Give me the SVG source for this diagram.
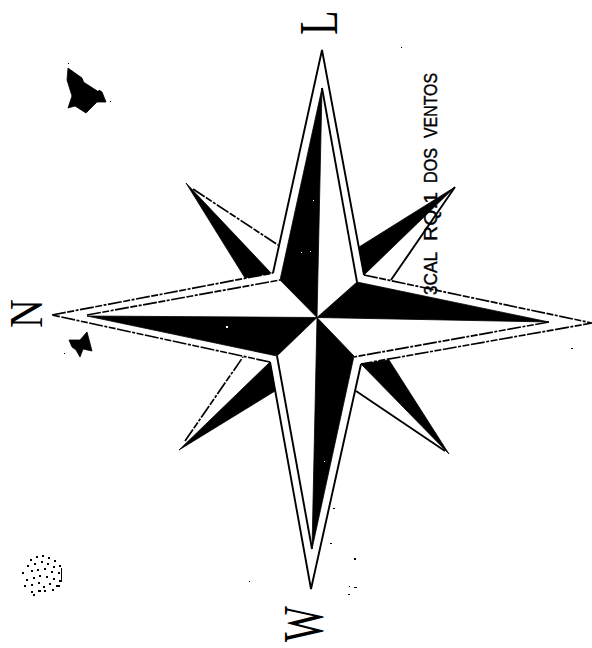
<svg xmlns="http://www.w3.org/2000/svg" width="592" height="648" viewBox="0 0 592 648">
<style>
.k{fill:#000;stroke:#000;stroke-width:.8;stroke-linejoin:round}
.s{fill:none;stroke:#000;stroke-width:1.9}
.d{fill:none;stroke:#000;stroke-width:1.7;stroke-dasharray:14 1.5 7 1.5 3 1.5}
.l{font-family:"Liberation Serif",serif;font-size:40px;fill:#000}
.t{font-family:"Liberation Sans",sans-serif;font-size:16px;fill:#000;stroke:#000;stroke-width:.35}
.p{fill:#000}
.w{fill:#fff}
</style>
<rect width="592" height="648" fill="#fff"/>
<g id="minor-points">
<path class="k" d="M186 183L271 273L245 278Z"/>
<path class="d" d="M193 189L278 245"/>
<path class="k" d="M455 187L364 275L359 247Z"/>
<path class="s" d="M455 187L391 280"/>
<path class="k" d="M179 450L270 362L275 391Z"/>
<path class="d" d="M185 441L243 357"/>
<path class="k" d="M449 454L361 364L389 360Z"/>
<path class="s" d="M445 451L356 391"/>
</g>
<g id="outer-star">
<path class="d" d="M52 315L273 273"/>
<path class="s" d="M273 273L322 50L364 275"/>
<path class="d" d="M364 275L592 323L361 364"/>
<path class="s" d="M361 364L311 589L270 362"/>
<path class="d" d="M270 362L52 315"/>
</g>
<g id="main-points">
<path class="k" d="M87 316L317 317.500L277 356Z"/>
<path class="k" d="M322 88L280 280L317 317.500Z"/>
<path class="k" d="M549 322L357 282L317 317.500Z"/>
<path class="k" d="M312 549L354 356L317 317.500Z"/>
<path class="d" d="M87 315L280 280"/>
<path class="s" d="M322 88L357 282"/>
<path class="d" d="M549 322L354 357"/>
<path class="s" d="M312 549L277 356"/>
</g>
<g id="label-north"><text class="l" transform="translate(42 328) rotate(-90) scale(1 1.17)">N</text></g>
<g id="label-east"><text class="l" transform="translate(337 35) rotate(-90) scale(1 1.37)">L</text></g>
<g id="label-west"><text class="l" transform="translate(323 642) rotate(-90) scale(.95 1.4)">W</text></g>
<g id="caption">
<text class="t" transform="translate(437 295) rotate(-90) scale(1 1.2)" textLength="43" lengthAdjust="spacingAndGlyphs">3CAL</text>
<text class="t" transform="translate(437 241) rotate(-90) scale(1 1.2)" textLength="49" lengthAdjust="spacingAndGlyphs">RQ:1</text>
<text class="t" transform="translate(437 183) rotate(-90) scale(1 1.2)" textLength="35" lengthAdjust="spacingAndGlyphs">DOS</text>
<text class="t" transform="translate(437 138) rotate(-90) scale(1 1.2)" textLength="65" lengthAdjust="spacingAndGlyphs">VENTOS</text>
</g>
<g id="blobs">
<path class="k" d="M68 68L82 78L102 92L106 102L97 102L86 113L75 106L68 108L72 96L67 80Z"/>
<path class="w" d="M82 77L100 89L98 91L84 82Z"/>
<path class="k" d="M69 340L80 340L87 332L92 351L83 349L80 357L76 350L72 347Z"/>
</g>
<g id="stipple">
<path class="p" d="M30 559h2v2h-2zM36 556h2v2h-2zM42 555h2v2h-2zM48 557h2v2h-2zM54 560h2v2h-2zM27 565h2v2h-2zM34 563h2v2h-2zM41 561h2v2h-2zM47 563h2v2h-2zM53 566h2v2h-2zM59 565h2v2h-2zM22 572h2v2h-2zM31 570h2v2h-2zM37 569h2v2h-2zM44 568h2v2h-2zM51 571h2v2h-2zM58 572h2v2h-2zM61 568h1v12h-1zM26 579h2v2h-2zM33 577h2v2h-2zM39 575h2v2h-2zM46 576h2v2h-2zM53 578h2v2h-2zM59 580h3v2h-3zM24 585h2v2h-2zM31 584h2v2h-2zM38 582h2v2h-2zM43 586h2v2h-2zM49 583h2v2h-2zM56 585h4v2h-4zM31 591h2v2h-2zM38 590h3v2h-3zM44 590h2v2h-2zM52 589h2v2h-2zM33 594h2v2h-2z"/>
</g>
<g id="specks">
<path class="p" d="M68 63h1v1h-1zM110 101h1v1h-1zM401 47h1v1h-1zM249 581h1v1h-1zM571 348h2v1h-2zM333 508h2v1h-2zM330 543h2v1h-2zM354 558h2v2h-2zM349 586h1v1h-1zM354 587h3v1h-3zM348 594h2v1h-2zM64 353h1v1h-1z"/>
<path class="w" d="M313 200h1v1h-1zM301 252h1v1h-1zM310 251h1v1h-1zM226 326h2v2h-2zM324 461h1v1h-1z"/>
</g>
</svg>
